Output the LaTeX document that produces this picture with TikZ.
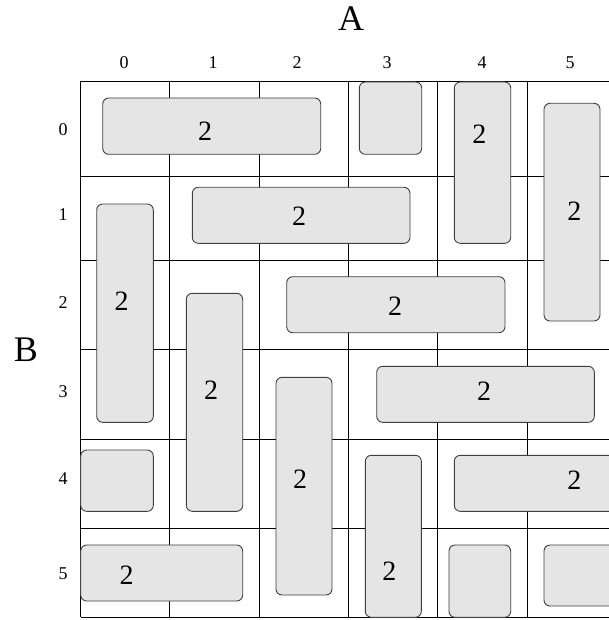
\documentclass[tikz,border=0pt]{standalone}
\usepackage{fontspec}
\setmainfont{Liberation Serif}
\usetikzlibrary{positioning}
\definecolor{carfill}{RGB}{229,229,229}
\definecolor{caredge}{RGB}{64,64,64}

\begin{document}
\begin{tikzpicture}[x=1pt, y=-1pt,
  car/.style={fill=carfill, draw=caredge, line width=0.9pt, rounded corners=6pt},
  gridline/.style={line width=0.8pt},
  len/.style={inner sep=0pt, font=\fontsize{28}{30}\selectfont},
  idx/.style={inner sep=0pt, font=\fontsize{18}{20}\selectfont},
  axis/.style={inner sep=0pt, font=\fontsize{36}{40}\selectfont}]
  \useasboundingbox (0,0) rectangle (609,620);
  \clip (0,0) rectangle (609,620);
  % board
  \foreach \x in {80.7,169.7,259.3,348.5,437.7,527.3}
    \draw[gridline] (\x,81.3) -- (\x,617.3);
  \foreach \y in {81.3,176,260,349.3,439,528.3,617.3}
    \draw[gridline] (80.7,\y) -- (620,\y);
  % cars
  \foreach \a/\b/\c/\d in {102.7/98/320.7/154.3, 359.3/82/421.7/154.3,
      454.3/82/510.7/243.3, 544/103.3/600/321, 192.3/187.3/410/243.3,
      96.7/204/153.3/422.3, 286.7/276.7/505/332.7, 186.3/293.3/242.7/511.3,
      276/377.3/332/595, 376.7/366.3/594.3/422.3, 80.7/450/153.3/511.3,
      365.3/455.3/421.3/617.3, 454.3/455.3/630/511.3, 80.7/545/242.7/601,
      449/545/510.7/617.3, 544/545/630/606}
    \draw[car] (\a,\b) rectangle (\c,\d);
  % lengths
  \foreach \n/\x/\y in {a/205/131, b/479.3/134, c/574.3/211.7, d/299/216.7,
      e/121.7/301.7, f/395/306.7, g/211/390.7, h/300/479.3, i/484/391.7,
      j/389.3/571.7, k/574.3/480, l/126.7/575}
    \node[len] (len\n) at (\x,\y) {2};
  % indices
  \foreach \i/\x in {0/124,1/213,2/297,3/387,4/482,5/570}
    \node[idx] (col\i) at (\x,63) {\i};
  \foreach \i/\y in {0/130,1/215,2/303,3/392,4/479,5/574}
    \node[idx] (row\i) at (63,\y) {\i};
  \node[axis] (axA) at (351,19) {A};
  \node[axis] (axB) at (26,350) {B};
\end{tikzpicture}
\end{document}
